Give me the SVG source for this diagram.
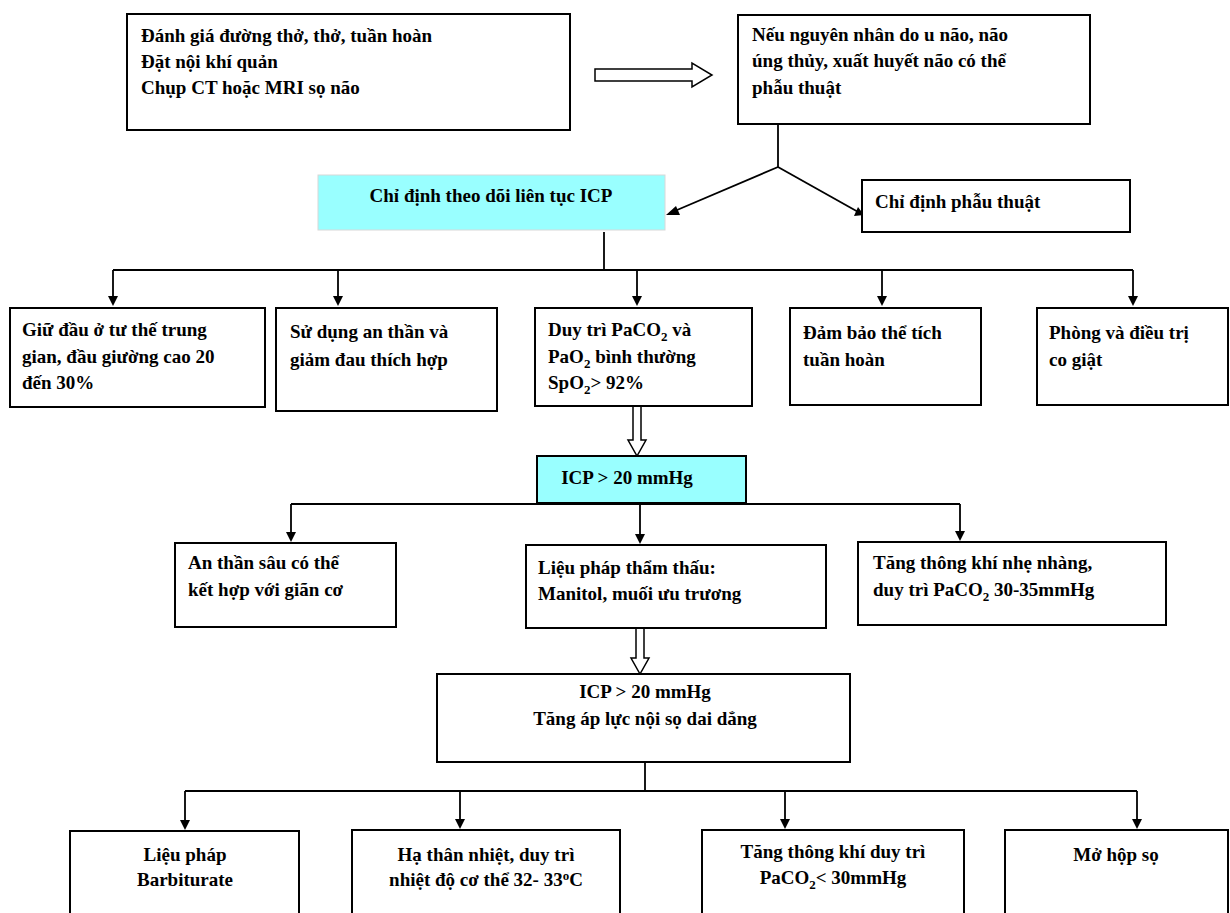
<svg xmlns="http://www.w3.org/2000/svg" width="1230" height="913" viewBox="0 0 1230 913">
<defs>
<style>
.b{fill:#fff;stroke:#000;stroke-width:2}
.c{fill:#99ffff;stroke:#d8d8d8;stroke-width:1}
.cb{fill:#99ffff;stroke:#000;stroke-width:2}
.l{fill:none;stroke:#000;stroke-width:1.8}
.h{fill:#fff;stroke:#000;stroke-width:1.5}
</style>
<path id="ad" d="M-5,-10 L5,-10 L0,0 z" fill="#000"/>
</defs>
<rect width="1230" height="913" fill="#fff"/>

<g id="connectors">
<polygon class="h" points="595,69 692,69 692,63 712,75 692,87 692,81 595,81"/>
<path class="l" d="M778,124 V167"/>
<path class="l" d="M778,167 L670,213"/>
<path d="M666,215 L676,206 L680,215 z" fill="#000"/>
<path class="l" d="M778,167 L860,213"/>
<path d="M864,215 L854,216 L858,207 z" fill="#000"/>
<path class="l" d="M604,232 V270"/>
<path class="l" d="M113,270 H1133"/>
<path class="l" d="M113,270 V298"/><use href="#ad" x="113" y="306"/>
<path class="l" d="M338,270 V298"/><use href="#ad" x="338" y="306"/>
<path class="l" d="M637,270 V298"/><use href="#ad" x="637" y="306"/>
<path class="l" d="M882,270 V298"/><use href="#ad" x="882" y="306"/>
<path class="l" d="M1133,270 V298"/><use href="#ad" x="1133" y="306"/>
<polygon class="h" points="633,406 641,406 641,440 646,440 637,456 628,440 633,440"/>
<path class="l" d="M291,504 H960"/>
<path class="l" d="M291,504 V534"/><use href="#ad" x="291" y="542"/>
<path class="l" d="M640,504 V536"/><use href="#ad" x="640" y="544"/>
<path class="l" d="M960,504 V533"/><use href="#ad" x="960" y="541"/>
<polygon class="h" points="636,628 644,628 644,658 649,658 640,674 631,658 636,658"/>
<path class="l" d="M645,762 V791"/>
<path class="l" d="M185,791 H1137"/>
<path class="l" d="M185,791 V822"/><use href="#ad" x="185" y="830"/>
<path class="l" d="M460,791 V821"/><use href="#ad" x="460" y="829"/>
<path class="l" d="M785,791 V821"/><use href="#ad" x="785" y="829"/>
<path class="l" d="M1137,791 V821"/><use href="#ad" x="1137" y="829"/>
</g>

<g id="n1">
<rect class="b" x="127" y="14" width="443" height="116"/>
<text font-family="Liberation Serif" font-weight="bold" font-size="19" x="141" y="42">Đánh giá đường thở, thở, tuần hoàn</text>
<text font-family="Liberation Serif" font-weight="bold" font-size="19" x="141" y="68">Đặt nội khí quản</text>
<text font-family="Liberation Serif" font-weight="bold" font-size="19" x="141" y="94">Chụp CT hoặc MRI sọ não</text>
</g>

<g id="n2">
<rect class="b" x="738" y="15" width="352" height="109"/>
<text font-family="Liberation Serif" font-weight="bold" font-size="19" x="752" y="41">Nếu nguyên nhân do u não, não</text>
<text font-family="Liberation Serif" font-weight="bold" font-size="19" x="752" y="67">úng thủy, xuất huyết não có thể</text>
<text font-family="Liberation Serif" font-weight="bold" font-size="19" x="752" y="94">phẫu thuật</text>
</g>

<g id="n3">
<rect class="c" x="318" y="175" width="347" height="55"/>
<text font-family="Liberation Serif" font-weight="bold" font-size="19" text-anchor="middle" x="491" y="202">Chỉ định theo dõi liên tục ICP</text>
</g>

<g id="n4">
<rect class="b" x="862" y="180" width="268" height="52"/>
<text font-family="Liberation Serif" font-weight="bold" font-size="19" x="875" y="208">Chỉ định phẫu thuật</text>
</g>

<g id="n5">
<rect class="b" x="10" y="308" width="255" height="99"/>
<text font-family="Liberation Serif" font-weight="bold" font-size="19" x="22" y="336">Giữ đầu ở tư thế trung</text>
<text font-family="Liberation Serif" font-weight="bold" font-size="19" x="22" y="363">gian, đầu giường cao 20</text>
<text font-family="Liberation Serif" font-weight="bold" font-size="19" x="22" y="389">đến 30%</text>
</g>

<g id="n6">
<rect class="b" x="276" y="308" width="221" height="103"/>
<text font-family="Liberation Serif" font-weight="bold" font-size="19" x="290" y="338">Sử dụng an thần và</text>
<text font-family="Liberation Serif" font-weight="bold" font-size="19" x="290" y="366">giảm đau thích hợp</text>
</g>

<g id="n7">
<rect class="b" x="535" y="308" width="217" height="98"/>
<text font-family="Liberation Serif" font-weight="bold" font-size="19" x="548" y="336">Duy trì PaCO<tspan font-size="13" dy="5">2</tspan><tspan dy="-5"> và</tspan></text>
<text font-family="Liberation Serif" font-weight="bold" font-size="19" x="548" y="363">PaO<tspan font-size="13" dy="5">2</tspan><tspan dy="-5"> bình thường</tspan></text>
<text font-family="Liberation Serif" font-weight="bold" font-size="19" x="548" y="389">SpO<tspan font-size="13" dy="5">2</tspan><tspan dy="-5">&gt; 92%</tspan></text>
</g>

<g id="n8">
<rect class="b" x="790" y="308" width="191" height="97"/>
<text font-family="Liberation Serif" font-weight="bold" font-size="19" x="803" y="339">Đảm bảo thể tích</text>
<text font-family="Liberation Serif" font-weight="bold" font-size="19" x="803" y="366">tuần hoàn</text>
</g>

<g id="n9">
<rect class="b" x="1037" y="308" width="191" height="97"/>
<text font-family="Liberation Serif" font-weight="bold" font-size="19" x="1049" y="339">Phòng và điều trị</text>
<text font-family="Liberation Serif" font-weight="bold" font-size="19" x="1049" y="366">co giật</text>
</g>

<g id="n10">
<rect class="cb" x="537" y="456" width="209" height="47"/>
<text font-family="Liberation Serif" font-weight="bold" font-size="19" text-anchor="middle" x="627" y="484">ICP &gt; 20 mmHg</text>
</g>

<g id="n11">
<rect class="b" x="175" y="543" width="221" height="84"/>
<text font-family="Liberation Serif" font-weight="bold" font-size="19" x="188" y="569">An thần sâu có thể</text>
<text font-family="Liberation Serif" font-weight="bold" font-size="19" x="188" y="596">kết hợp với giãn cơ</text>
</g>

<g id="n12">
<rect class="b" x="526" y="545" width="300" height="83"/>
<text font-family="Liberation Serif" font-weight="bold" font-size="19" x="538" y="574">Liệu pháp thẩm thấu:</text>
<text font-family="Liberation Serif" font-weight="bold" font-size="19" x="538" y="600">Manitol, muối ưu trương</text>
</g>

<g id="n13">
<rect class="b" x="858" y="542" width="308" height="83"/>
<text font-family="Liberation Serif" font-weight="bold" font-size="19" x="873" y="569">Tăng thông khí nhẹ nhàng,</text>
<text font-family="Liberation Serif" font-weight="bold" font-size="19" x="873" y="596">duy trì PaCO<tspan font-size="13" dy="5">2</tspan><tspan dy="-5"> 30-35mmHg</tspan></text>
</g>

<g id="n14">
<rect class="b" x="437" y="674" width="413" height="88"/>
<text font-family="Liberation Serif" font-weight="bold" font-size="19" text-anchor="middle" x="645" y="698">ICP &gt; 20 mmHg</text>
<text font-family="Liberation Serif" font-weight="bold" font-size="19" text-anchor="middle" x="645" y="725">Tăng áp lực nội sọ dai dẳng</text>
</g>

<g id="n15">
<rect class="b" x="70" y="831" width="229" height="90"/>
<text font-family="Liberation Serif" font-weight="bold" font-size="19" text-anchor="middle" x="185" y="861">Liệu pháp</text>
<text font-family="Liberation Serif" font-weight="bold" font-size="19" text-anchor="middle" x="185" y="886">Barbiturate</text>
</g>

<g id="n16">
<rect class="b" x="352" y="830" width="268" height="90"/>
<text font-family="Liberation Serif" font-weight="bold" font-size="19" text-anchor="middle" x="486" y="861">Hạ thân nhiệt, duy trì</text>
<text font-family="Liberation Serif" font-weight="bold" font-size="19" text-anchor="middle" x="486" y="886">nhiệt độ cơ thể 32- 33<tspan font-size="13" dy="-6">o</tspan><tspan dy="6">C</tspan></text>
</g>

<g id="n17">
<rect class="b" x="702" y="830" width="262" height="90"/>
<text font-family="Liberation Serif" font-weight="bold" font-size="19" text-anchor="middle" x="833" y="858">Tăng thông khí duy trì</text>
<text font-family="Liberation Serif" font-weight="bold" font-size="19" text-anchor="middle" x="833" y="884">PaCO<tspan font-size="13" dy="5">2</tspan><tspan dy="-5">&lt; 30mmHg</tspan></text>
</g>

<g id="n18">
<rect class="b" x="1005" y="830" width="223" height="90"/>
<text font-family="Liberation Serif" font-weight="bold" font-size="19" text-anchor="middle" x="1116" y="861">Mở hộp sọ</text>
</g>
</svg>
